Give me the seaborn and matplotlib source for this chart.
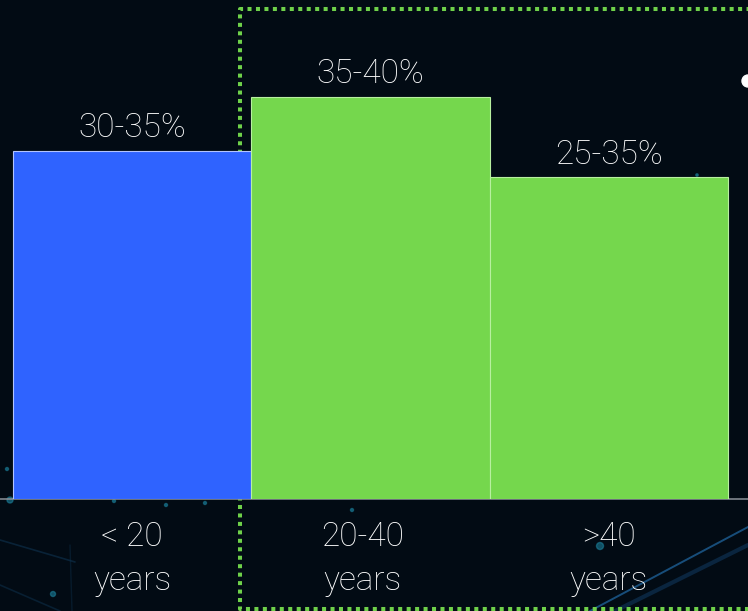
import matplotlib
matplotlib.use("Agg")
import matplotlib.pyplot as plt
from matplotlib.lines import Line2D
from matplotlib.patches import Circle
from matplotlib.transforms import ScaledTranslation
import seaborn as sns

# Share of each age group
categories = ["< 20\nyears", "20-40\nyears", ">40\nyears"]
values = [32.5, 37.5, 30.0]
value_labels = ["30-35%", "35-40%", "25-35%"]

BG = "#020b14"
BLUE = "#2f63ff"
GREEN = "#75d74d"
bar_colors = [BLUE, GREEN, GREEN]
edge_colors = ["#b3c4ff", "#b8f0a0", "#b8f0a0"]

sns.set_theme(style="white")
plt.rcParams["font.family"] = ["Roboto", "DejaVu Sans"]
TEXT_WEIGHT = "light"
TEXT_SIZE = 24

W, H = 748, 611
fig = plt.figure(figsize=(W / 100, H / 100), dpi=100, facecolor=BG)


def px(x, y):
    """Figure-fraction coordinates from pixel position (origin top-left)."""
    return x / W, 1 - y / H


# Faint decorative network lines and glows in the background
deco_lines = [
    ((590, 611), (748, 527), "#1d5f95", 0.8, 1.4),
    ((615, 611), (748, 545), "#12406a", 0.5, 3.0),
    ((0, 540), (75, 562), "#0e3350", 0.6, 1.2),
    ((70, 545), (72, 611), "#0e3350", 0.4, 1.0),
    ((0, 585), (60, 611), "#0e3350", 0.5, 1.2),
]
for (x0, y0), (x1, y1), c, a, lw in deco_lines:
    p0, p1 = px(x0, y0), px(x1, y1)
    fig.add_artist(Line2D([p0[0], p1[0]], [p0[1], p1[1]], color=c, alpha=a,
                          lw=lw, transform=fig.transFigure, zorder=-3))

deco_dots = [(10, 500, 3), (7, 469, 1.5), (53, 594, 2.5), (114, 501, 1.5),
             (166, 505, 1.5), (205, 503, 1.5), (352, 510, 1.5), (600, 546, 3.5),
             (697, 175, 1.2)]
for x, y, r in deco_dots:
    fx, fy = px(x, y)
    fig.add_artist(Circle((fx * W / 100, fy * H / 100), r / 100,
                          transform=fig.dpi_scale_trans, color="#1b7f9a",
                          alpha=0.6, zorder=-3))

# Dotted frame around the two adult groups
frame = [px(760, 609), px(239.5, 609), px(239.5, 9), px(760, 9)]
fig.add_artist(Line2D([p[0] for p in frame], [p[1] for p in frame],
                      color="#6fd14a", lw=2.9, linestyle=(0, (1, 1.1)),
                      dash_capstyle="butt", transform=fig.transFigure,
                      zorder=-1))

# White marker at the right edge
fig.add_artist(Circle((W / 100, (H - 81) / 100), 0.06,
                      transform=fig.dpi_scale_trans, color="white", zorder=2))

ax = fig.add_axes([0, 112 / H, 1, 499 / H])
ax.set_facecolor("none")

sns.barplot(x=categories, y=values, hue=categories, palette=bar_colors,
            width=1.0, saturation=1, legend=False, ax=ax, zorder=3)

for patch, ec in zip(ax.patches, edge_colors):
    patch.set_edgecolor(ec)
    patch.set_linewidth(0.8)

for i, (v, lab) in enumerate(zip(values, value_labels)):
    ax.annotate(lab, xy=(i, v), xytext=(0, 10), textcoords="offset points",
                ha="center", va="baseline", color="white", fontsize=TEXT_SIZE,
                fontweight=TEXT_WEIGHT, zorder=4)

ax.set_xlim(-0.5545, 2.584)
ax.set_ylim(0, 46.55)
ax.set_yticks([])
ax.set_xticks(range(len(categories)), labels=categories, linespacing=1.48,
              color="white", fontsize=TEXT_SIZE, fontweight=TEXT_WEIGHT)
ax.set_xlabel("")
ax.set_ylabel("")
ax.tick_params(axis="x", length=0, pad=16)

# The middle category label sits slightly left of its bar centre
mid = ax.get_xticklabels()[1]
mid.set_transform(mid.get_transform()
                  + ScaledTranslation(-0.08, 0, fig.dpi_scale_trans))

for side in ["top", "left", "right"]:
    ax.spines[side].set_visible(False)
ax.spines["bottom"].set_color("#8c929a")
ax.spines["bottom"].set_linewidth(1.1)
ax.spines["bottom"].set_zorder(2)

fig.savefig("out.png", dpi=100, facecolor=BG)
